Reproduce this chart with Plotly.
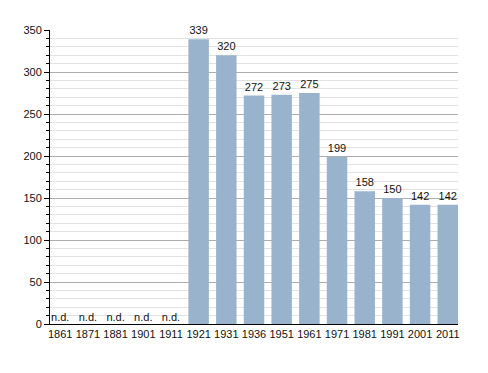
import plotly.graph_objects as go

years = ["1861", "1871", "1881", "1901", "1911", "1921", "1931", "1936",
         "1951", "1961", "1971", "1981", "1991", "2001", "2011"]
population = [None, None, None, None, None, 339, 320, 272, 273, 275, 199, 158, 150, 142, 142]
nd_label = "n.d."

bar_y = [v if v is not None else 0 for v in population]
bar_text = [str(v) if v is not None else "" for v in population]
nd_x = [y for y, v in zip(years, population) if v is None]

BW = 0.74
fig = go.Figure()
fig.add_trace(go.Bar(
    x=years, y=bar_y, text=bar_text, textposition="outside",
    textfont=dict(family="Liberation Sans", size=11, color="#111"),
    marker=dict(color="#99b3cc", line=dict(width=0)),
    cliponaxis=False, width=BW,
))
fig.add_trace(go.Scatter(
    x=nd_x, y=[0] * len(nd_x), mode="text", text=[nd_label] * len(nd_x),
    textposition="top center",
    textfont=dict(family="Liberation Sans", size=11, color="#111"),
    cliponaxis=False,
))
fig.update_layout(
    width=480, height=365,
    margin=dict(l=42, r=30, t=22, b=49, autoexpand=False),
    paper_bgcolor="white", plot_bgcolor="white",
    showlegend=False,
    font=dict(family="Liberation Sans", size=11, color="#111"),
)
fig.update_yaxes(
    range=[0, 350], dtick=50, showgrid=True, gridcolor="#adadad", gridwidth=1,
    showline=True, linecolor="#000", linewidth=1,
    ticks="outside", ticklen=5, tickcolor="#000", automargin=False,
    minor=dict(dtick=10, showgrid=True, gridcolor="#e2e2e2", ticks="outside", ticklen=3, tickcolor="#000"),
    zeroline=False, fixedrange=True,
)
fig.update_xaxes(
    showline=True, linecolor="#000", linewidth=1, ticks="", showgrid=False,
    tickfont=dict(size=11), automargin=False,
    range=[-BW / 2, len(years) - 1 + BW / 2],
)
fig.write_html("out.html")
